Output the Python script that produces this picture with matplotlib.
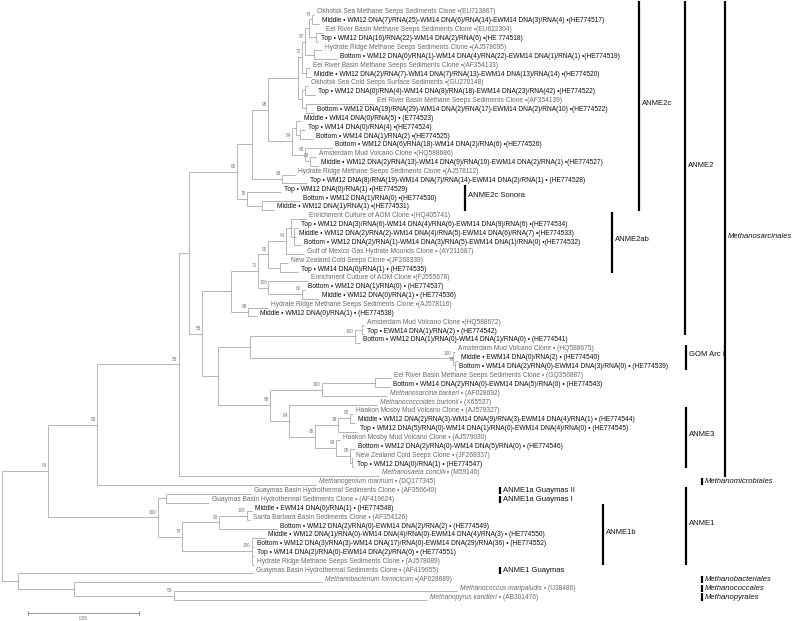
"""
Phylogenetic tree of methanogen / ANME 16S sequences with clade brackets.
Writes out.png.
"""
import matplotlib
matplotlib.use("Agg")
import matplotlib.pyplot as plt
from matplotlib import font_manager

# ---- data -------------------------------------------------------------------
# tree topology, branch lengths (substitutions/site) and bootstrap values.
# leaves are named L<i>, i = row in LEAF_LABELS
NWK_2C_A = ("((((L0:0.0009,L1:0.0032)74:0.0014,(L2:0.0032,L3:0.0009):0.0032):0.0018,"
            "(L4:0.0036,L5:0.0104):0.0041)87:0.0014,(L6:0.0018,L7:0.0023):0.0018)72:0.0018")
NWK_2C_B = "((L8:0.0014,L9:0.0045):0.0014,(L10:0.0306,L11:0.0036):0.0018):0.0018"
NWK_2C_C = ("((L12:0.0023,(L13:0.0023,L14:0.0059):0.0018):0.0018,"
            "(L15:0.0122,(L16:0.0027,L17:0.0036)83:0.0023)89:0.0059)84:0.0108")
NWK_2C = f"((({NWK_2C_A},{NWK_2C_B}):0.0135,{NWK_2C_C})98:0.0072,(L18:0.0059,L19:0.0113)98:0.0135):0.0068"
NWK_SONORA = "(L20:0.0153,(L21:0.0171,L22:0.0054):0.0068)79:0.0045"
NWK_2AB_Y1 = ("(((L23:0.0068,(L24:0.0018,L25:0.0009,L26:0.0032):0.0014):0.0023,L27:0.0081)94:0.0081,"
              "(L28:0.0036,L29:0.0081):0.0054)92:0.0045")
NWK_2AB_Y2 = "(L30:0.0180,(L31:0.0014,L32:0.0077)82:0.0153)100:0.0045"
NWK_2AB = f"(({NWK_2AB_Y1},{NWK_2AB_Y2})71:0.0122,(L33:0.0090,L34:0.0041)98:0.0077):0.0131"
NWK_GOM = ("(((L35:0.0009,L36:0.0009):0.0032,L37:0.0023)100:0.0473,"
           "(L38:0.0009,(L39:0.0014,L40:0.0005)78:0.0009)100:0.0914):0.0144")
NWK_ANME3 = ("(((L41:0.0072,L42:0.0068):0.0239,L43:0.0293)100:0.0234,(L44:0.0396,"
             "(((L45:0.0014,L46:0.0023)99:0.0054,L47:0.0086)98:0.0104,"
             "(L48:0.0018,(L49:0.0023,(L50:0.0005,L51:0.0009):0.0009)89:0.0063)99:0.0095)95:0.0117)84:0.0086)98:0.0234")
NWK_ANME1 = ("((L54:0.0383,L55:0.0194):0.0036,(((L56:0.0023,L57:0.0014)100:0.0126,L58:0.0261)93:0.0167,"
             "(L59:0.0059,L60:0.0009,L61:0.0009,L62:0.0009)100:0.0315)74:0.0108)100:0.0495")
NWK_OUT = "(L63:0.1059,(L64:0.1117,(L65:0.1275,L66:0.1140)58:0.0450):0.0252):0.0072"
NEWICK = (f"(((((({NWK_2C},{NWK_SONORA})60:0.0216,({NWK_2AB},({NWK_GOM},{NWK_ANME3}):0.0072)55:0.0059):0.0045,"
          f"L52:0.0901)55:0.0369,L53:0.0986)83:0.0221,{NWK_ANME1})94:0.0207,{NWK_OUT});")

LEAF_LABELS = [
    "Okhotsk Sea Methane Seeps Sediments Clone •(EU713867)",
    "Middle • WM12 DNA(7)/RNA(25)-WM14 DNA(6)/RNA(14)-EWM14 DNA(3)/RNA(4) •(HE774517)",
    "Eel River Basin Methane Seeps Sediments Clone •(EU622304)",
    "Top • WM12 DNA(16)/RNA(22)-WM14 DNA(2)/RNA(6) •(HE 774518)",
    "Hydrate Ridge Methane Seeps Sediments Clone •(AJ578095)",
    "Bottom • WM12 DNA(0)/RNA(1)-WM14 DNA(4)/RNA(22)-EWM14 DNA(1)/RNA(1) •(HE774519)",
    "Eel River Basin Methane Seeps Sediments Clone •(AF354133)",
    "Middle • WM12 DNA(2)/RNA(7)-WM14 DNA(7)/RNA(13)-EWM14 DNA(13)/RNA(14) •(HE774520)",
    "Okhotsk Sea Cold Seeps Surface Sediments •(GU270148)",
    "Top • WM12 DNA(0)/RNA(4)-WM14 DNA(8)/RNA(18)-EWM14 DNA(23)/RNA(42) •(HE774522)",
    "Eel River Basin Methane Seeps Sediments Clone •(AF354139)",
    "Bottom • WM12 DNA(19)/RNA(29)-WM14 DNA(2)/RNA(17)-EWM14 DNA(2)/RNA(10) •(HE774522)",
    "Middle • WM14 DNA(0)/RNA(5) • (E774523)",
    "Top • WM14 DNA(0)/RNA(4) •(HE774524)",
    "Bottom • WM14 DNA(1)/RNA(2) •(HE774525)",
    "Bottom • WM12 DNA(6)/RNA(18)-WM14 DNA(2)/RNA(6) •(HE774526)",
    "Amsterdam Mud Volcano Clone •(HQ588686)",
    "Middle • WM12 DNA(2)/RNA(13)-WM14 DNA(9)/RNA(10)-EWM14 DNA(2)/RNA(1) •(HE774527)",
    "Hydrate Ridge Methane Seeps Sediments Clone •(AJ578112)",
    "Top • WM12 DNA(8)/RNA(19)-WM14 DNA(7)/RNA(14)-EWM14 DNA(2)/RNA(1) • (HE774528)",
    "Top • WM12 DNA(0)/RNA(1) •(HE774529)",
    "Bottom • WM12 DNA(1)/RNA(0) •(HE774530)",
    "Middle • WM12 DNA(1)/RNA(1) •(HE774531)",
    "Enrichment Culture of AOM Clone •(HQ405741)",
    "Top • WM12 DNA(3)/RNA(6)-WM14 DNA(4)/RNA(6)-EWM14 DNA(9)/RNA(6) •(HE774534)",
    "Middle • WM12 DNA(2)/RNA(2)-WM14 DNA(4)/RNA(5)-EWM14 DNA(6)/RNA(7) •(HE774533)",
    "Bottom • WM12 DNA(2)/RNA(1)-WM14 DNA(3)/RNA(5)-EWM14 DNA(1)/RNA(0) •(HE774532)",
    "Gulf of Mexico Gas Hydrate Mounds Clone • (AY211687)",
    "New Zealand Cold Seeps Clone •(JF268339)",
    "Top • WM14 DNA(0)/RNA(1) • (HE774535)",
    "Enrichment Culture of AOM Clone •(FJ555678)",
    "Bottom • WM12 DNA(1)/RNA(0) • (HE774537)",
    "Middle • WM12 DNA(0)/RNA(1) • (HE774536)",
    "Hydrate Ridge Methane Seeps Sediments Clone •(AJ578116)",
    "Middle • WM12 DNA(0)/RNA(1) • (HE774538)",
    "Amsterdam Mud Volcano Clone •(HQ588672)",
    "Top • EWM14 DNA(1)/RNA(2) • (HE774542)",
    "Bottom • WM12 DNA(1)/RNA(0)-WM14 DNA(1)/RNA(0) • (HE774541)",
    "Amsterdam Mud Volcano Clone • (HQ588675)",
    "Middle • EWM14 DNA(0)/RNA(2) • (HE774540)",
    "Bottom • WM14 DNA(2)/RNA(0)-EWM14 DNA(3)/RNA(0) • (HE774539)",
    "Eel River Basin Methane Seeps Sediments Clone • (GQ356887)",
    "Bottom • WM14 DNA(2)/RNA(0)-EWM14 DNA(5)/RNA(0) • (HE774543)",
    "Methanosarcina barkeri • (AF028692)",
    "Methanococcoides burtonii • (X65537)",
    "Haakon Mosby Mud Volcano Clone • (AJ579327)",
    "Middle • WM12 DNA(2)/RNA(3)-WM14 DNA(9)/RNA(3)-EWM14 DNA(4)/RNA(1) • (HE774544)",
    "Top • WM12 DNA(5)/RNA(0)-WM14 DNA(1)/RNA(0)-EWM14 DNA(4)/RNA(0) • (HE774545)",
    "Haakon Mosby Mud Volcano Clone • (AJ579030)",
    "Bottom • WM12 DNA(2)/RNA(0)-WM14 DNA(5)/RNA(0) • (HE774546)",
    "New Zealand Cold Seeps Clone • (JF268337)",
    "Top • WM12 DNA(0)/RNA(1) • (HE774547)",
    "Methanosaeta concilii • (M59146)",
    "Methanogenium marinum • (DQ177345)",
    "Guaymas Basin Hydrothermal Sediments Clone • (AF356640)",
    "Guaymas Basin Hydrothermal Sediments Clone • (AF419624)",
    "Middle • EWM14 DNA(0)/RNA(1) • (HE774548)",
    "Santa Barbara Basin Sediments Clone • (AF354126)",
    "Bottom • WM12 DNA(2)/RNA(0)-EWM14 DNA(2)/RNA(2) • (HE774549)",
    "Middle • WM12 DNA(1)/RNA(0)-WM14 DNA(4)/RNA(0)-EWM14 DNA(4)/RNA(3) • (HE774550)",
    "Bottom • WM12 DNA(3)/RNA(3)-WM14 DNA(17)/RNA(0)-EWM14 DNA(29)/RNA(36) • (HE774552)",
    "Top • WM14 DNA(2)/RNA(0)-EWM14 DNA(2)/RNA(0) • (HE774551)",
    "Hydrate Ridge Methane Seeps Sediments Clone • (AJ578089)",
    "Guaymas Basin Hydrothermal Sediments Clone • (AF419655)",
    "Methanobacterium formicicum •(AF028689)",
    "Methanococcus maripaludis • (U38486)",
    "Methanopyrus kandleri • (AB301476)",
]

# clade brackets: name, first leaf, last leaf
CLADE_NAMES = ["ANME2c", "ANME2c Sonora", "ANME2ab", "ANME2", "GOM Arc I", "ANME3",
               "Methanosarcinales", "ANME1", "ANME1b"]
CLADE_FIRST = [0, 20, 23, 0, 38, 45, 0, 54, 56]
CLADE_LAST = [22, 22, 29, 36, 40, 51, 52, 62, 62]
# single-leaf tags: name, leaf
TAG_NAMES = ["Methanomicrobiales", "ANME1a Guaymas II", "ANME1a Guaymas I", "ANME1 Guaymas",
             "Methanobacteriales", "Methanococcales", "Methanopyrales"]
TAG_LEAF = [53, 54, 55, 63, 64, 65, 66]
ITALIC_GROUPS = {"Methanosarcinales", "Methanomicrobiales", "Methanobacteriales",
                 "Methanococcales", "Methanopyrales"}
SCALE_LEN = 0.05

# ---- layout (pixels of the 792x621 canvas) -----------------------------------
PX_PER_UNIT = 2220.0
ROOT_PX = 2
ROW0_PX, ROW_PX = 15, 8.864
CLADE_COL_PX = [639, 465, 612, 685, 686, 686, 725, 686, 603]
TAG_COL_PX = [702, 500, 500, 500, 702, 702, 702]

LINE_C = "#a0a0a0"
ENV_C = "#6a6a6a"
SAMPLE_C = "#101010"
LEAF_FS = 4.75
SUPPORT_FS = 3.4
GROUP_FS = 5.5


def PxToX(px):
    return (px - ROOT_PX) / PX_PER_UNIT


def ParseNewick(s):
    pos = 0

    def Node():
        nonlocal pos
        node = {"children": [], "name": "", "length": 0.0}
        if s[pos] == "(":
            pos += 1
            while True:
                node["children"].append(Node())
                if s[pos] == ",":
                    pos += 1
                    continue
                pos += 1
                break
        start = pos
        while s[pos] not in ",():;":
            pos += 1
        node["name"] = s[start:pos]
        if s[pos] == ":":
            pos += 1
            start = pos
            while s[pos] not in ",();":
                pos += 1
            node["length"] = float(s[start:pos])
        return node

    return Node()


def Layout(node, depth):
    node["x"] = depth + node["length"]
    if not node["children"]:
        node["y"] = int(node["name"][1:])
        return
    for c in node["children"]:
        Layout(c, node["x"])
    node["y"] = (node["children"][0]["y"] + node["children"][-1]["y"]) / 2


names = {f.name for f in font_manager.fontManager.ttflist}
GROUP_FONT = "Liberation Sans Narrow" if "Liberation Sans Narrow" in names else "Liberation Sans"
plt.rcParams["font.family"] = ["Liberation Sans", "DejaVu Sans"]

fig = plt.figure(figsize=(7.92, 6.21), dpi=100)
ax = fig.add_axes([0, 0, 1, 1])
ax.set_xlim(PxToX(0), PxToX(792))
ax.set_ylim((621 - ROW0_PX) / ROW_PX, (0 - ROW0_PX) / ROW_PX)
ax.axis("off")

dx = 1.0 / PX_PER_UNIT  # one pixel in x
tree = ParseNewick(NEWICK)
Layout(tree, 0.0)


def Draw(node):
    kids = node["children"]
    if not kids:
        return
    ax.plot([node["x"], node["x"]], [kids[0]["y"], kids[-1]["y"]], color=LINE_C, lw=0.55,
            solid_capstyle="butt")
    for c in kids:
        ax.plot([node["x"], c["x"]], [c["y"], c["y"]], color=LINE_C, lw=0.55, solid_capstyle="butt")
        Draw(c)
    if node["name"]:
        ax.text(node["x"] - 1.2 * dx, node["y"] - 0.6, node["name"], fontsize=SUPPORT_FS,
                color="#777777", ha="right", va="center")


Draw(tree)

# leaf labels
renderer = fig.canvas.get_renderer()
leaves = []


def Collect(node):
    if not node["children"]:
        leaves.append(node)
    for c in node["children"]:
        Collect(c)


Collect(tree)
for leaf in leaves:
    i = leaf["y"]
    label = LEAF_LABELS[i]
    x = leaf["x"] + 3 * dx
    y = i - 0.34
    if label.startswith("Methano"):
        name, rest = label.split(" •", 1)
        t = ax.text(x, y, name, fontsize=LEAF_FS, style="italic", color=ENV_C, va="center")
        bb = t.get_window_extent(renderer)
        x2 = ax.transData.inverted().transform((bb.x1, 0))[0]
        ax.text(x2, y, " •" + rest, fontsize=LEAF_FS, color=ENV_C, va="center")
    elif label.split(" ")[0] in ("Top", "Middle", "Bottom"):
        ax.text(x, y, label, fontsize=LEAF_FS, color=SAMPLE_C, va="center")
    else:
        ax.text(x, y, label, fontsize=LEAF_FS, color=ENV_C, va="center")

# clade brackets
for name, first, last, col in zip(CLADE_NAMES, CLADE_FIRST, CLADE_LAST, CLADE_COL_PX):
    top = first - 0.8 if first > 0 else -1.55
    bottom = last + 0.1
    x = PxToX(col)
    ax.plot([x, x], [top, bottom], color="black", lw=1.6, solid_capstyle="butt")
    ax.text(x + 3 * dx, (top + bottom) / 2 - 0.3, name, fontsize=GROUP_FS, family=GROUP_FONT,
            style="italic" if name in ITALIC_GROUPS else "normal", color="#111111", va="center")

for name, leaf, col in zip(TAG_NAMES, TAG_LEAF, TAG_COL_PX):
    x = PxToX(col)
    y = leaf - 0.34
    ax.plot([x, x], [y - 0.4, y + 0.4], color="black", lw=1.6, solid_capstyle="butt")
    ax.text(x + 3 * dx, y, name, fontsize=GROUP_FS, family=GROUP_FONT,
            style="italic" if name in ITALIC_GROUPS else "normal", color="#111111", va="center")

# scale bar
sx0 = PxToX(28)
sy = (613 - ROW0_PX) / ROW_PX
ax.plot([sx0, sx0 + SCALE_LEN], [sy, sy], color="#888888", lw=0.6)
for xe in (sx0, sx0 + SCALE_LEN):
    ax.plot([xe, xe], [sy - 0.2, sy + 0.2], color="#888888", lw=0.6)
ax.text(sx0 + SCALE_LEN / 2, sy + 0.65, f"{SCALE_LEN:.2f}", fontsize=SUPPORT_FS, color="#777777",
        ha="center", va="center")

fig.savefig("out.png", dpi=100)
